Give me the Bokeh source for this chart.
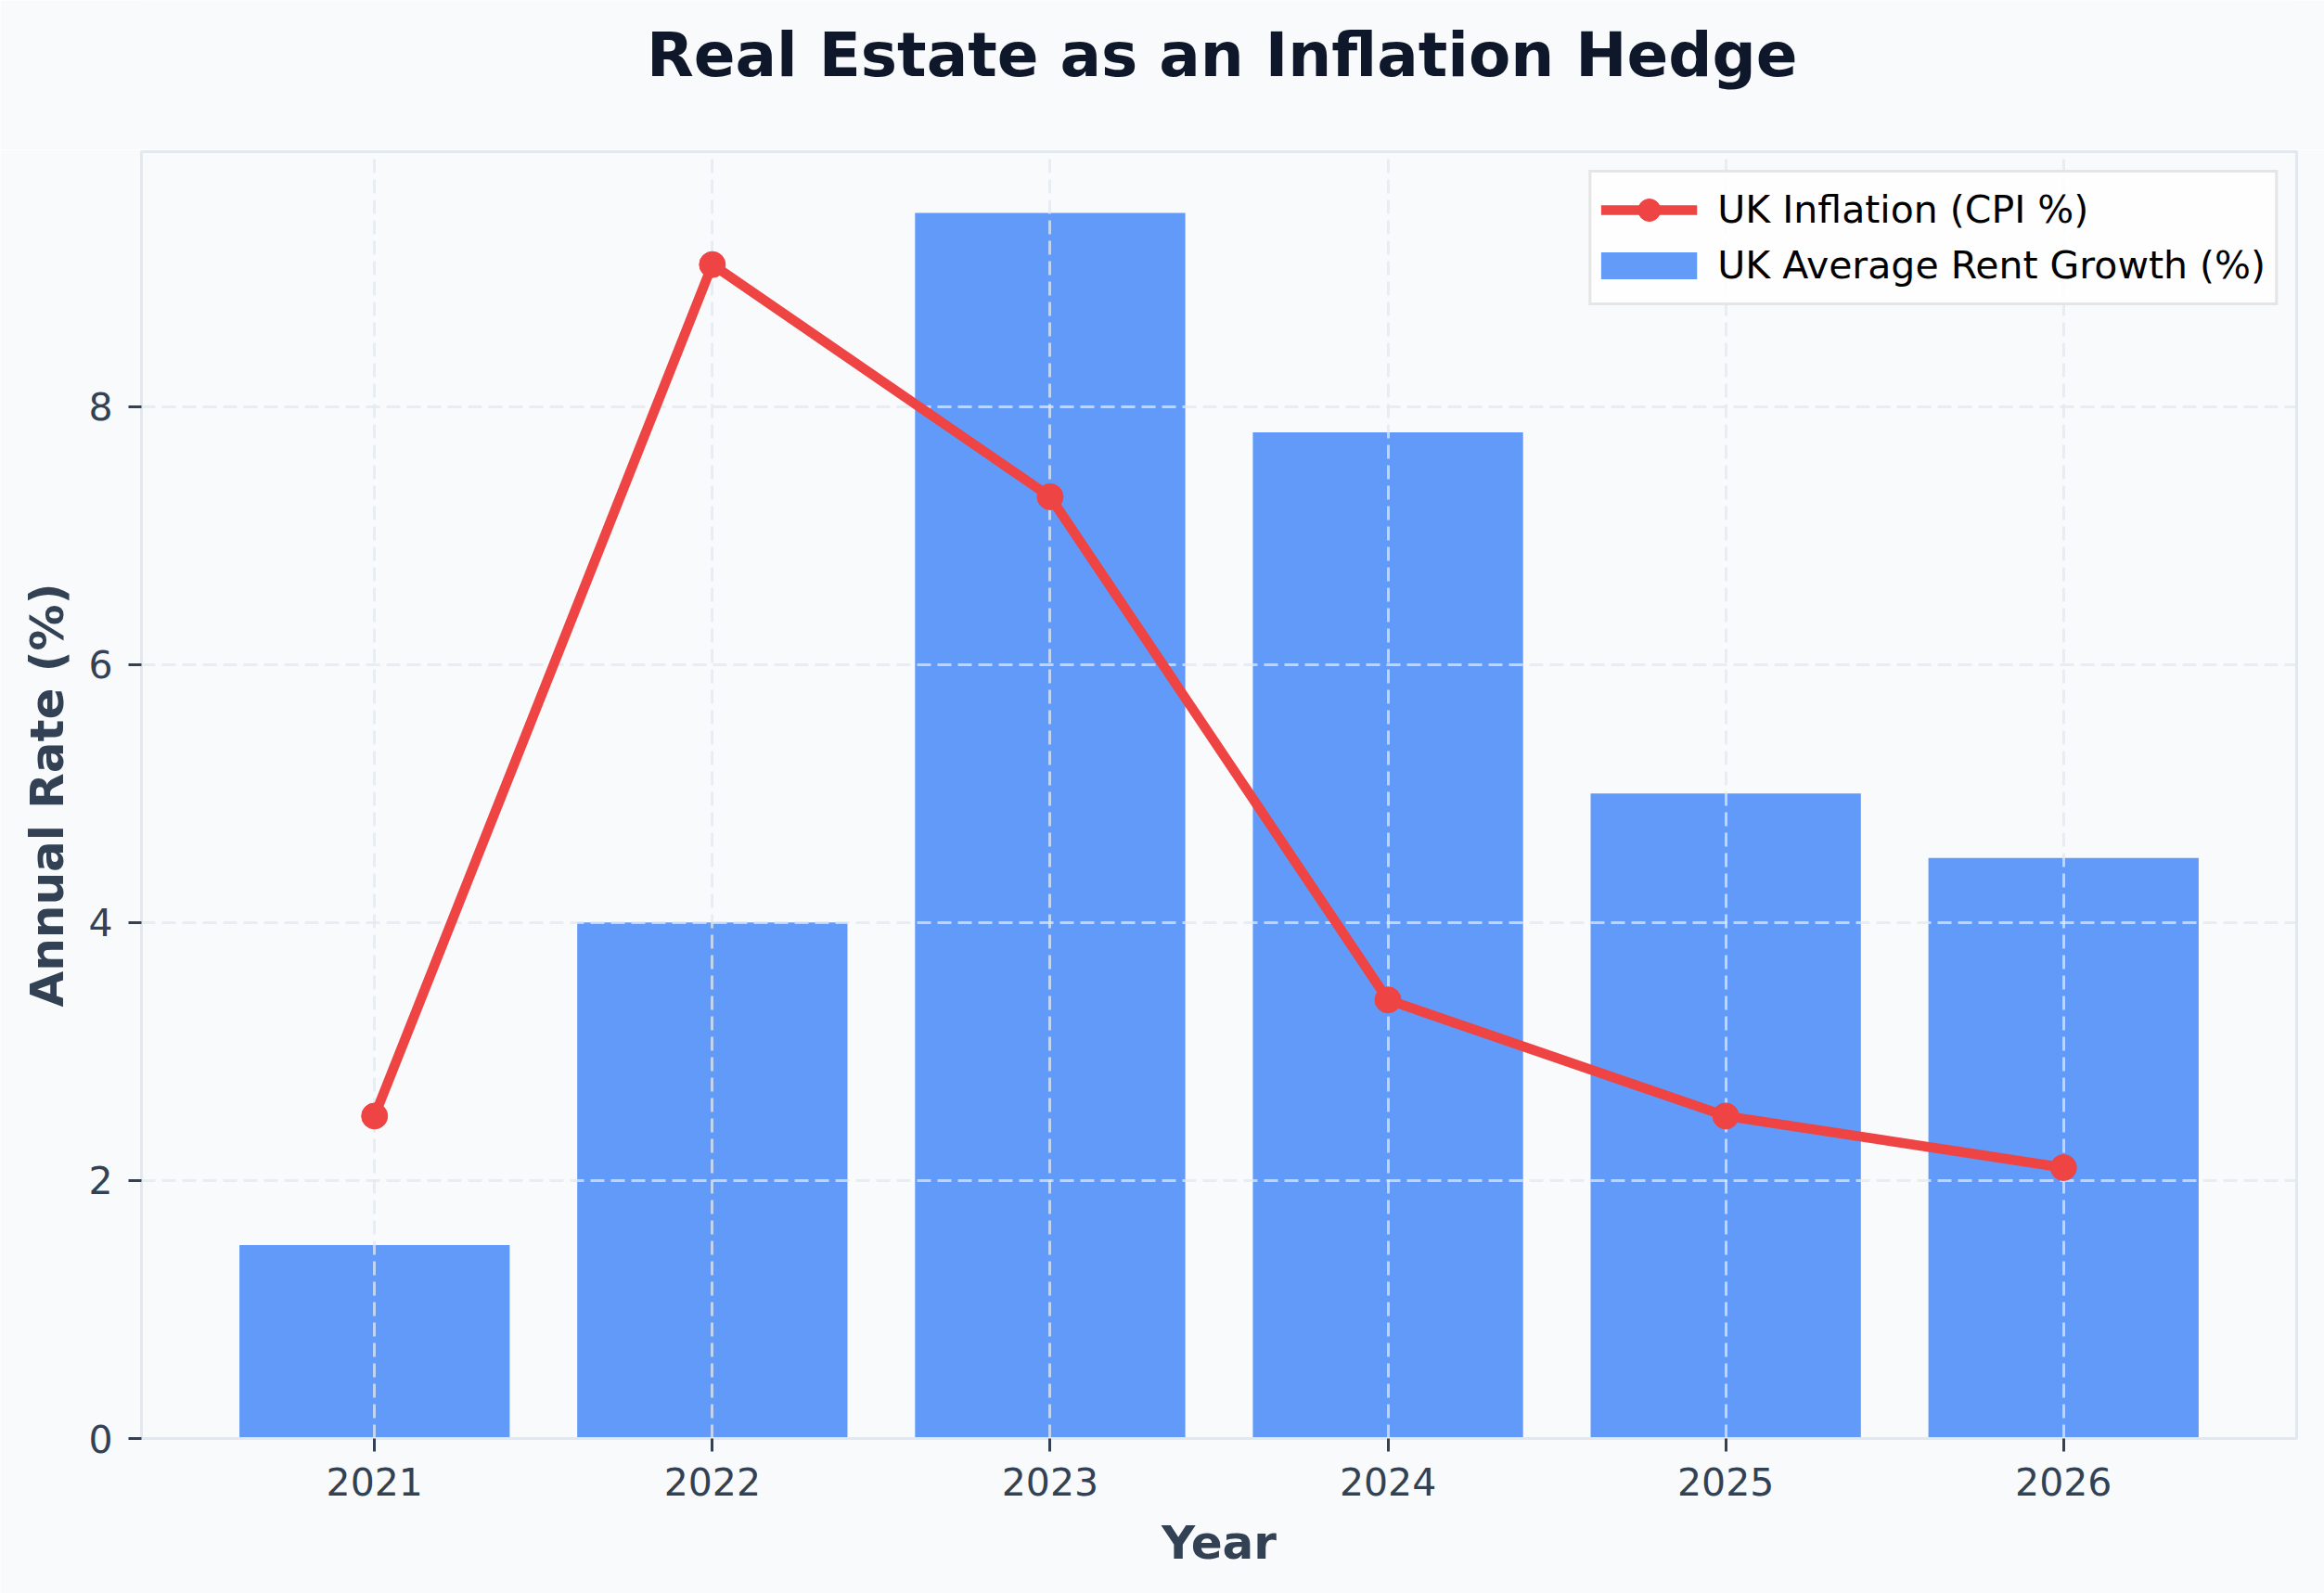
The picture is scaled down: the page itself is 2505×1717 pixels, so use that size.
import numpy as np
from bokeh.plotting import figure
from bokeh.layouts import column
from bokeh.models import FixedTicker, Range1d, Legend, LegendItem, Label
from bokeh.embed import file_html
from bokeh.resources import INLINE

years = [2021, 2022, 2023, 2024, 2025, 2026]
rent_growth = [1.5, 4.0, 9.5, 7.8, 5.0, 4.5]
inflation = [2.5, 9.1, 7.3, 3.4, 2.5, 2.1]
y_ticks = [0, 2, 4, 6, 8]
title_text = "Real Estate as an Inflation Hedge"

FONT = "DejaVu Sans"
BG = "#f8fafc"
TXT = "#334155"
SPINE = "#e2e8f0"
BAR = "#3b82f6"
RED = "#ef4444"

W, H = 2505, 1717
TOP_H = 161
ML, MR, MT, MB = 152, 30, 2, 167

# --- title strip ---
head = figure(width=W, height=TOP_H, output_backend="svg", toolbar_location=None,
              x_range=Range1d(0, W), y_range=Range1d(0, TOP_H),
              min_border_left=0, min_border_right=0, min_border_top=0,
              min_border_bottom=0, x_axis_location=None, y_axis_location=None,
              background_fill_color=BG, border_fill_color=BG,
              outline_line_color=None)
head.grid.visible = False
head.add_layout(Label(x=1256, y=TOP_H - 59, text=title_text,
                      text_align="center", text_baseline="alphabetic",
                      text_font=FONT, text_font_size="66px",
                      text_font_style="bold", text_color="#0f172a"))

# --- main chart ---
p = figure(width=W, height=H - TOP_H, output_backend="svg", toolbar_location=None,
           x_range=Range1d(2020.31, 2026.69), y_range=Range1d(0, 9.975),
           min_border_left=ML, min_border_right=MR, min_border_top=MT,
           min_border_bottom=MB, background_fill_color=BG, border_fill_color=BG)

bar_r = p.vbar(x=years, top=rent_growth, width=0.8, bottom=0,
               fill_color=BAR, fill_alpha=0.8, line_color=None, level="image")
line_r = p.line(years, inflation, line_color=RED, line_width=10.5)
pts_r = p.scatter(years, inflation, size=28, fill_color=RED,
                  line_color=RED, line_width=1)
# legend swatch for the bars (drawn only in the legend)
bar_key = p.line(x=np.array([np.nan]), y=np.array([np.nan]), line_color=BAR,
                 line_alpha=0.8, line_width=29, line_cap="butt")

p.outline_line_color = SPINE
p.outline_line_width = 3

for g in (p.xgrid[0], p.ygrid[0]):
    g.grid_line_color = SPINE
    g.grid_line_alpha = 0.75
    g.grid_line_width = 3
    g.grid_line_dash = "15 7"

p.xaxis.ticker = FixedTicker(ticks=years)
p.yaxis.ticker = FixedTicker(ticks=y_ticks)
p.xaxis.axis_label = "Year"
p.yaxis.axis_label = "Annual Rate (%)"

for ax in (p.xaxis[0], p.yaxis[0]):
    ax.axis_line_color = SPINE
    ax.axis_line_width = 3
    ax.major_tick_line_color = TXT
    ax.major_tick_line_width = 3
    ax.major_tick_out = 14
    ax.major_tick_in = 0
    ax.minor_tick_line_color = None
    ax.major_label_text_font = FONT
    ax.major_label_text_font_size = "41px"
    ax.major_label_text_color = TXT
    ax.axis_label_text_font = FONT
    ax.axis_label_text_font_size = "50px"
    ax.axis_label_text_font_style = "bold"
    ax.axis_label_text_color = TXT

p.xaxis.major_label_standoff = 17
p.xaxis.axis_label_standoff = 19
p.yaxis.major_label_standoff = 17
p.yaxis.axis_label_standoff = 12

legend = Legend(items=[
    LegendItem(label="UK Inflation (CPI %)", renderers=[line_r, pts_r]),
    LegendItem(label="UK Average Rent Growth (%)", renderers=[bar_key]),
], location="top_right")
legend.margin = 20
legend.padding = 10
legend.spacing = 0
legend.glyph_width = 104
legend.glyph_height = 60
legend.label_height = 60
legend.label_standoff = 22
legend.label_text_font = FONT
legend.label_text_font_size = "41px"
legend.label_text_color = "#000000"
legend.background_fill_color = "#ffffff"
legend.background_fill_alpha = 0.8
legend.border_line_color = "#cccccc"
legend.border_line_width = 3
p.add_layout(legend)

layout = column(head, p, spacing=0)
open("out.html", "w").write(file_html(layout, INLINE))
